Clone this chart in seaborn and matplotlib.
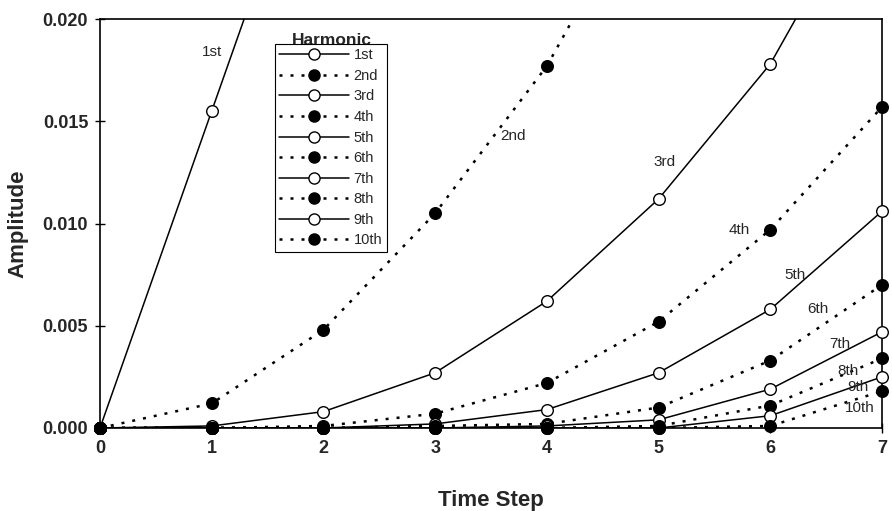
import matplotlib
matplotlib.use("Agg")
import matplotlib.pyplot as plt
from matplotlib.lines import Line2D
import pandas as pd
import seaborn as sns

# ---- data -------------------------------------------------------------
time_steps = [0, 1, 2, 3, 4, 5, 6, 7]
harmonics = ["1st", "2nd", "3rd", "4th", "5th", "6th", "7th", "8th", "9th", "10th"]

amp_1st = [0.0, 0.0155, 0.0310, 0.0465, 0.0620, 0.0775, 0.0930, 0.1085]
amp_2nd = [0.0, 0.0012, 0.0048, 0.0105, 0.0177, 0.0275, 0.0400, 0.0540]
amp_3rd = [0.0, 0.0001, 0.0008, 0.0027, 0.0062, 0.0112, 0.0178, 0.0275]
amp_4th = [0.0, 0.0, 0.0001, 0.0007, 0.0022, 0.0052, 0.0097, 0.0157]
amp_5th = [0.0, 0.0, 0.0, 0.0002, 0.0009, 0.0027, 0.0058, 0.0106]
amp_6th = [0.0, 0.0, 0.0, 0.0001, 0.0002, 0.0010, 0.0033, 0.0070]
amp_7th = [0.0, 0.0, 0.0, 0.0, 0.0001, 0.0004, 0.0019, 0.0047]
amp_8th = [0.0, 0.0, 0.0, 0.0, 0.0, 0.0001, 0.0011, 0.0034]
amp_9th = [0.0, 0.0, 0.0, 0.0, 0.0, 0.0, 0.0006, 0.0025]
amp_10th = [0.0, 0.0, 0.0, 0.0, 0.0, 0.0, 0.0001, 0.0018]

# in-plot curve labels (data coordinates)
label_x = [1.00, 3.70, 5.05, 5.72, 6.22, 6.43, 6.62, 6.70, 6.78, 6.80]
label_y = [0.0184, 0.0143, 0.0130, 0.0097, 0.0075, 0.0058, 0.0041, 0.0028, 0.0020, 0.0010]

y_ticks = [0.000, 0.005, 0.010, 0.015, 0.020]
x_ticks = [0, 1, 2, 3, 4, 5, 6, 7]

series = [amp_1st, amp_2nd, amp_3rd, amp_4th, amp_5th,
          amp_6th, amp_7th, amp_8th, amp_9th, amp_10th]

rows = []
for name, vals in zip(harmonics, series):
    for t, v in zip(time_steps, vals):
        rows.append({"Harmonic": name, "Time Step": t, "Amplitude": v})
df = pd.DataFrame(rows)

# ---- style ------------------------------------------------------------
sns.set_theme(style="white")
plt.rcParams["font.family"] = ["Liberation Sans", "DejaVu Sans"]

fig = plt.figure(figsize=(8.92, 5.11), dpi=100)
ax = fig.add_axes([100 / 892, 1 - 428 / 511, 782 / 892, 409 / 511])

y_max = 0.020
dotted = (0, (1.2, 3.2))

handles = []
for i, name in enumerate(harmonics):
    sub = df[df["Harmonic"] == name]
    odd = i % 2 == 0
    ls = "-" if odd else dotted
    lw = 1.1 if odd else 1.8
    face = "white" if odd else "black"
    sns.lineplot(data=sub, x="Time Step", y="Amplitude", ax=ax,
                 color="black", linestyle=ls, linewidth=lw, zorder=2)
    vis = sub[sub["Amplitude"] <= y_max]
    sns.scatterplot(data=vis, x="Time Step", y="Amplitude", ax=ax,
                    marker="o", s=70, facecolor=face, edgecolor="black",
                    linewidth=1.0, zorder=3, clip_on=False)
    handles.append(Line2D([], [], color="black", linestyle=ls, linewidth=lw,
                          marker="o", markersize=8, markerfacecolor=face,
                          markeredgecolor="black", markeredgewidth=1.0))

for name, lx, ly in zip(harmonics, label_x, label_y):
    ax.text(lx, ly, name, fontsize=11, ha="center", va="center", zorder=4)

ax.set_xlim(0, 7)
ax.set_ylim(0, y_max)
ax.set_xticks(x_ticks)
ax.set_yticks(y_ticks)
ax.set_yticklabels([f"{v:.3f}" for v in y_ticks])
ax.tick_params(axis="both", which="major", labelsize=13, direction="inout",
               length=7, width=1, color="black", left=True, bottom=True, pad=5)
for lab in ax.get_xticklabels() + ax.get_yticklabels():
    lab.set_fontweight("bold")

for sp in ax.spines.values():
    sp.set_visible(True)
    sp.set_color("black")
    sp.set_linewidth(1.2)

ax.set_xlabel("Time Step", fontsize=16, fontweight="bold", labelpad=24)
ax.set_ylabel("Amplitude", fontsize=16, fontweight="bold", labelpad=10)

leg = fig.legend(handles, harmonics, loc="upper left",
                 bbox_to_anchor=(275 / 892, 1 - 44 / 511), borderaxespad=0,
                 fontsize=10.5, frameon=True, fancybox=False, framealpha=1,
                 edgecolor="black", handlelength=4.8, handletextpad=0.3,
                 labelspacing=0.45, borderpad=0.3)
leg.get_frame().set_linewidth(0.8)
fig.text(332 / 892, 1 - 45 / 511, "Harmonic", fontsize=12.5, fontweight="bold",
         ha="center", va="baseline")

fig.savefig("out.png", dpi=100)
